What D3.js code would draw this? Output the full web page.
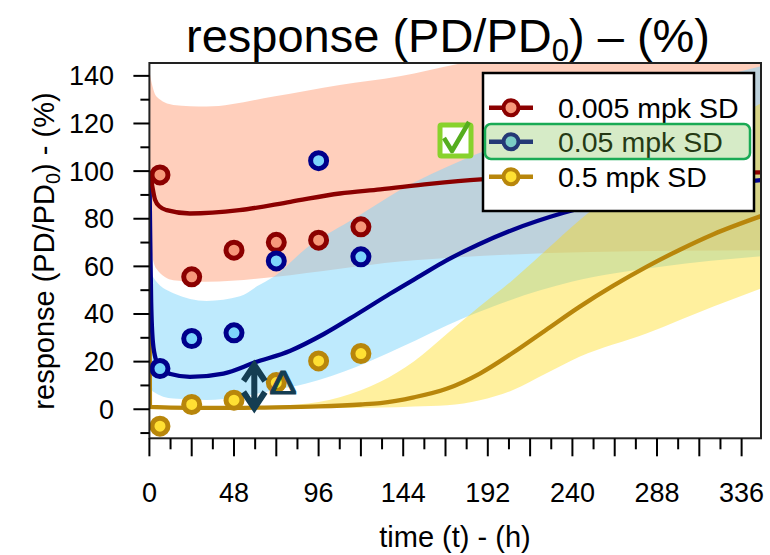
<!DOCTYPE html>
<html><head><meta charset="utf-8">
<script src="https://cdnjs.cloudflare.com/ajax/libs/d3/7.8.5/d3.min.js"></script>
<style>body{margin:0;background:#fff}svg{display:block}text{font-family:"Liberation Sans",Arial,sans-serif}</style>
</head><body><svg id="c" width="770" height="555"></svg>
<script>
// ---------- data ----------
const seriesNames = ["0.005 mpk SD", "0.05 mpk SD", "0.5 mpk SD"];
const tObs = [6, 24, 48, 72, 96, 120];
const obs005 = [98.4, 55.6, 66.8, 70.1, 71.0, 76.6];
const obs05 = [17.1, 29.7, 32.1, 62.3, 104.4, 64.0];
const obs5 = [-7.1, 2.0, 3.8, 11.2, 20.3, 23.4];

const tRed = [0, 0.5, 1.3, 3.2, 6, 9.8, 23, 51, 80, 108, 131, 159, 188, 240, 290, 347];
const red = [100, 98, 95, 88, 85, 83.6, 82.2, 83.6, 87.1, 90.6, 92.3, 94.6, 96.5, 98, 99, 99.5];
const tRedBand = [0, 1.3, 4, 13.6, 32.5, 70.5, 108, 142, 175, 250, 347];
const redHi = [142, 137, 131.3, 127.8, 127.1, 131.3, 136.2, 139.8, 145, 152, 158];
const redLo = [75, 66, 59, 54.2, 53.5, 55.5, 59, 62, 63.8, 66, 66.8];

const tBlue = [0, 0.5, 1, 2, 4, 6, 12, 23, 42, 60, 80, 99, 118, 136.5, 153.6, 168.6, 187, 206, 235, 260, 300, 347];
const blue = [100, 70, 45, 28, 20, 17, 14.8, 13.6, 15, 19.7, 24.6, 31.6, 40, 48.5, 56, 62.5, 69.3, 75.3, 82.5, 87.3, 92.5, 96.2];
const tBlueBand = [0, 2, 13.6, 32.5, 51.4, 61, 70.5, 89, 117.6, 142, 178, 240, 290, 347];
const blueHi = [60, 55.6, 48.7, 45.5, 47.4, 51.6, 55.6, 67.6, 80.7, 92, 104.8, 121, 133, 144];
const blueLo = [10, 7.5, 4.5, 3.9, 5.3, 6.5, 8, 10.8, 17.8, 25.8, 38.2, 53.6, 59.8, 64.2];

const tYel = [0, 0.3, 24, 48, 72, 96, 120, 131, 150, 169, 187.5, 206, 225, 244, 263, 282, 301, 320, 347];
const yel = [100, 1, 0.6, 0.6, 0.8, 1.2, 2, 2.6, 5, 8.7, 15, 23.6, 33.3, 43, 51.8, 59.8, 67, 73.5, 81.1];
const tYelBand = [0, 60, 84, 96, 108, 120, 131, 150, 169, 187.5, 206, 225, 244, 282, 320, 347];
const yelHi = [0.8, 1.2, 2, 3, 5, 8, 11.5, 20, 31.8, 43.2, 54.2, 66.8, 79.4, 100, 117, 128.5];
const yelLo = [0, 0.3, 0.4, 0.5, 0.5, 0.6, 0.7, 1.2, 1.7, 3.8, 8, 15, 22, 31.8, 43.1, 50.7];

const xTickLabels = [0, 48, 96, 144, 192, 240, 288, 336];
const yTickLabels = [0, 20, 40, 60, 80, 100, 120, 140];

// ---------- layout ----------
const svg = d3.select("#c");
const L = 149.4, R = 761, T = 63, B = 438.3;
const x = d3.scaleLinear().domain([0, 347]).range([L, R]);
const y = d3.scaleLinear().domain([-12.2, 145.4]).range([B, T]);

const COL = {
  red: {line: "#8b0000", fill: "#f7977a", band: "#ffa07a", bandOp: 0.5},
  blue: {line: "#00008b", fill: "#7dd5fc", band: "#7dd5fc", bandOp: 0.5},
  yel: {line: "#b8860b", fill: "#ffe033", band: "#ffd700", bandOp: 0.38}
};

svg.append("defs").append("clipPath").attr("id", "clip")
  .append("rect").attr("x", L).attr("y", T).attr("width", R - L).attr("height", B - T);
const plot = svg.append("g").attr("clip-path", "url(#clip)");

function band(ts, lo, hi, c) {
  const d = ts.map((t, i) => ({t, lo: lo[i], hi: hi[i]}));
  plot.append("path").datum(d)
    .attr("d", d3.area().curve(d3.curveMonotoneX).x(p => x(p.t)).y0(p => y(p.lo)).y1(p => y(p.hi)))
    .attr("fill", c.band).attr("fill-opacity", c.bandOp);
}
band(tRedBand, redLo, redHi, COL.red);
band(tBlueBand, blueLo, blueHi, COL.blue);
band(tYelBand, yelLo, yelHi, COL.yel);

function line(ts, vs, c) {
  const d = ts.map((t, i) => ({t, v: vs[i]}));
  plot.append("path").datum(d)
    .attr("d", d3.line().curve(d3.curveMonotoneX).x(p => x(p.t)).y(p => y(p.v)))
    .attr("fill", "none").attr("stroke", c.line).attr("stroke-width", 4.3);
}
line(tYel, yel, COL.yel);
line(tBlue, blue, COL.blue);
line(tRed, red, COL.red);

function pts(vs, c) {
  svg.append("g").selectAll("circle").data(tObs.map((t, i) => ({t, v: vs[i]}))).join("circle")
    .attr("cx", p => x(p.t)).attr("cy", p => y(p.v)).attr("r", 8)
    .attr("fill", c.fill).attr("stroke", c.line).attr("stroke-width", 5);
}
pts(obs005, COL.red);
pts(obs05, COL.blue);
pts(obs5, COL.yel);

// frame
svg.append("rect").attr("x", L).attr("y", T).attr("width", R - L).attr("height", B - T)
  .attr("fill", "none").attr("stroke", "#222").attr("stroke-width", 2);

// axes
const ax = svg.append("g");
const xMajor = d3.range(0, 347, 24), xMinor = d3.range(12, 347, 24);
ax.selectAll(".xM").data(xMajor).join("line").attr("x1", d => x(d)).attr("x2", d => x(d))
  .attr("y1", B).attr("y2", B + 18).attr("stroke", "#000").attr("stroke-width", 2);
ax.selectAll(".xm").data(xMinor).join("line").attr("x1", d => x(d)).attr("x2", d => x(d))
  .attr("y1", B).attr("y2", B + 11).attr("stroke", "#000").attr("stroke-width", 2);
ax.selectAll(".xl").data(xTickLabels).join("text").attr("x", d => x(d)).attr("y", 502)
  .attr("text-anchor", "middle").attr("font-size", 27).text(d => d);
const yMajor = d3.range(0, 141, 20), yMinor = d3.range(-10, 146, 20);
ax.selectAll(".yM").data(yMajor).join("line").attr("x1", L - 16).attr("x2", L)
  .attr("y1", d => y(d)).attr("y2", d => y(d)).attr("stroke", "#000").attr("stroke-width", 2);
ax.selectAll(".ym").data(yMinor).join("line").attr("x1", L - 9).attr("x2", L)
  .attr("y1", d => y(d)).attr("y2", d => y(d)).attr("stroke", "#000").attr("stroke-width", 2);
ax.selectAll(".yl").data(yTickLabels).join("text").attr("x", 114).attr("y", d => y(d) + 9.5)
  .attr("text-anchor", "end").attr("font-size", 27).text(d => d);

// titles
const title = svg.append("text").attr("x", 448).attr("y", 52).attr("text-anchor", "middle").attr("font-size", 47);
title.append("tspan").text("response (PD/PD");
title.append("tspan").attr("font-size", 31).attr("dy", 9).text("0");
title.append("tspan").attr("dy", -9).text(") \u2013 (%)");

svg.append("text").attr("x", 455).attr("y", 547).attr("text-anchor", "middle").attr("font-size", 29).text("time (t) - (h)");

const yl = svg.append("text").attr("transform", "translate(54,251) rotate(-90)").attr("text-anchor", "middle").attr("font-size", 29);
yl.append("tspan").text("response (PD/PD");
yl.append("tspan").attr("font-size", 20).attr("dy", 6).text("0");
yl.append("tspan").attr("dy", -6).text(") - (%)");

// legend
const lg = svg.append("g");
lg.append("rect").attr("x", 483).attr("y", 73).attr("width", 271).attr("height", 138)
  .attr("fill", "#fff").attr("stroke", "#000").attr("stroke-width", 2.5);
const rows = [107.7, 141.7, 176.7];
[COL.red, COL.blue, COL.yel].forEach((c, i) => {
  lg.append("line").attr("x1", 489).attr("x2", 533).attr("y1", rows[i]).attr("y2", rows[i])
    .attr("stroke", c.line).attr("stroke-width", 4.5);
  lg.append("circle").attr("cx", 511).attr("cy", rows[i]).attr("r", 7.5)
    .attr("fill", c.fill).attr("stroke", c.line).attr("stroke-width", 4);
  lg.append("text").attr("x", 558).attr("y", rows[i] + 10).attr("font-size", 28.5).text(seriesNames[i]);
});
lg.append("rect").attr("x", 485).attr("y", 124).attr("width", 265).attr("height", 35).attr("rx", 6)
  .attr("fill", "rgb(120,190,70)").attr("fill-opacity", 0.3).attr("stroke", "#1aaa55").attr("stroke-width", 2.5);

// check mark
svg.append("rect").attr("x", 440).attr("y", 125).attr("width", 31).attr("height", 31).attr("rx", 1.5)
  .attr("fill", "#fff").attr("stroke", "#88d22c").attr("stroke-width", 5);
svg.append("path").attr("d", "M444,138 L452,151 L469,122").attr("fill", "none")
  .attr("stroke", "#55ad1e").attr("stroke-width", 4.5).attr("stroke-linejoin", "round");

// double arrow & delta
const ac = "#143d52";
svg.append("path").attr("d", "M243.5,381 L254.3,365 L265,381 M254.3,366 L254.3,406 M243.5,392 L254.3,408 L265,392")
  .attr("fill", "none").attr("stroke", ac).attr("stroke-width", 6);
svg.append("text").attr("transform", "translate(283,394) scale(1.25,1)").attr("text-anchor", "middle")
  .attr("font-size", 33).attr("fill", ac).attr("stroke", ac).attr("stroke-width", 0.9).text("\u0394");
</script></body></html>
